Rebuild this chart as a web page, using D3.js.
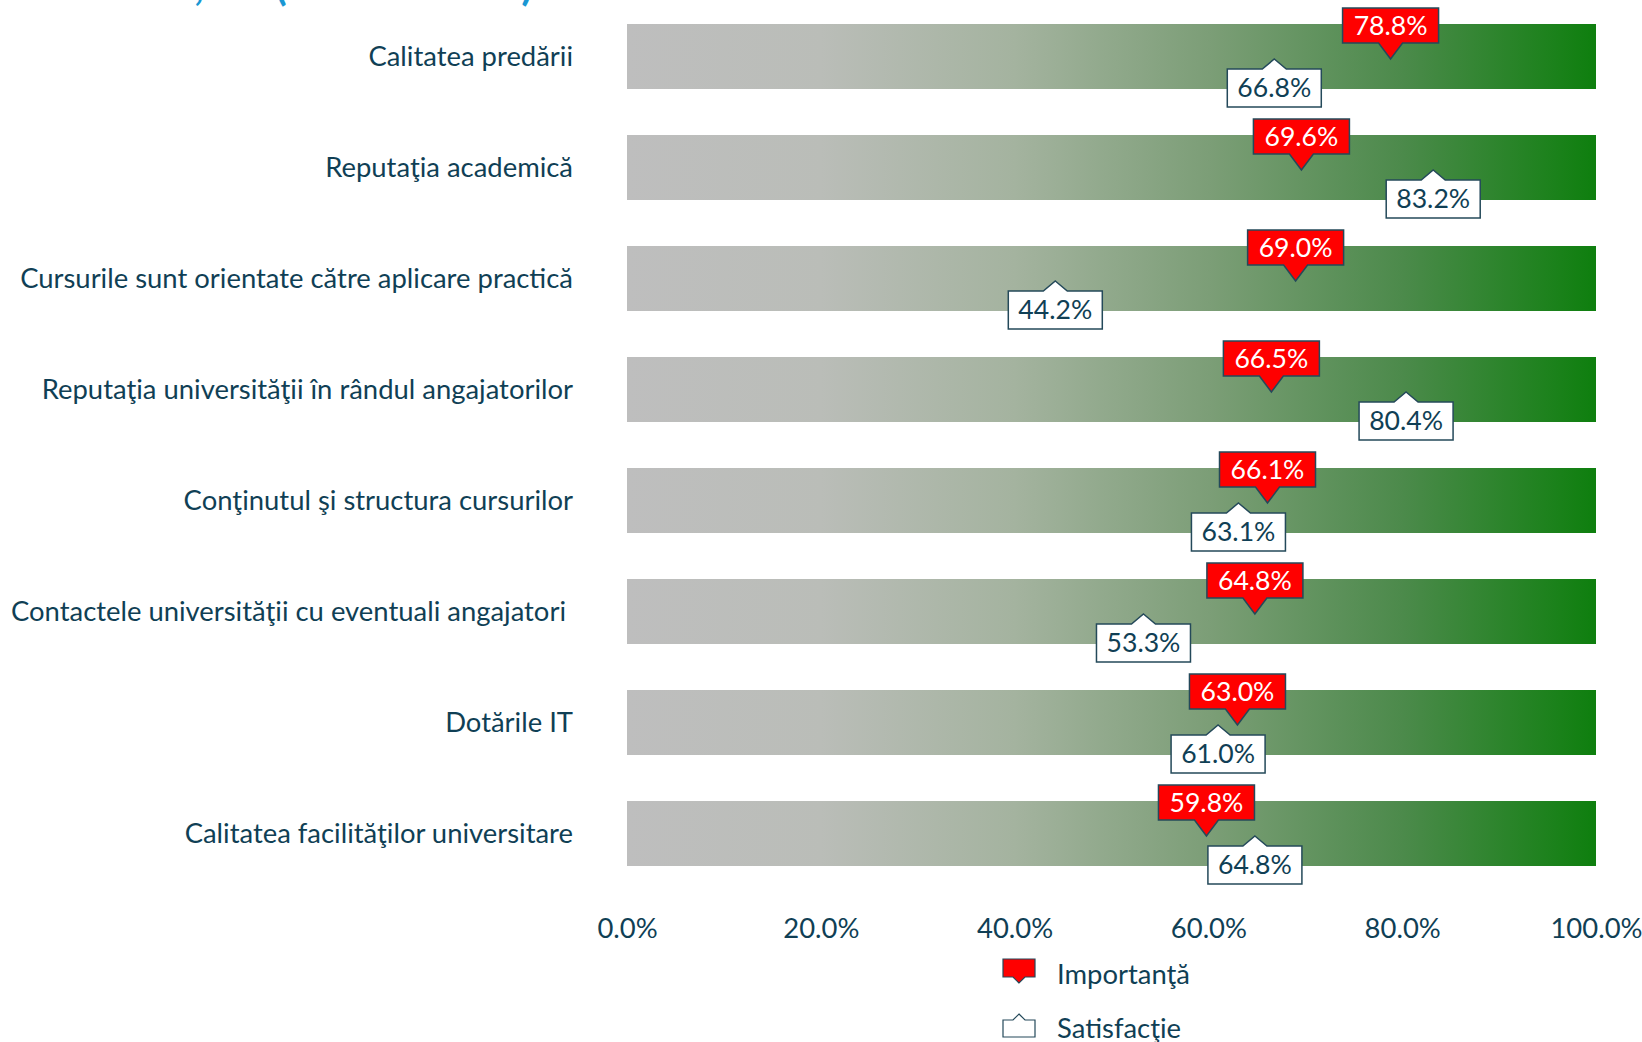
<!DOCTYPE html>
<html>
<head>
<meta charset="utf-8">
<script src="https://cdn.jsdelivr.net/npm/d3@7/dist/d3.min.js"></script>
<style>
  body { margin: 0; background: #fff; }
  svg text { font-family: Lato, "Open Sans", sans-serif; }
</style>
</head>
<body>
<div id="chart"></div>
<script>
// categories, top to bottom
var categories = [
  "Calitatea predării",
  "Reputaţia academică",
  "Cursurile sunt orientate către aplicare practică",
  "Reputaţia universităţii în rândul angajatorilor",
  "Conţinutul şi structura cursurilor",
  "Contactele universităţii cu eventuali angajatori ",
  "Dotările IT",
  "Calitatea facilităţilor universitare"
];
var importanta = [0.788, 0.696, 0.690, 0.665, 0.661, 0.648, 0.630, 0.598];
var satisfactie = [0.668, 0.832, 0.442, 0.804, 0.631, 0.533, 0.610, 0.648];
var ticks = [0, 0.2, 0.4, 0.6, 0.8, 1.0];
var legendLabels = ["Importanţă", "Satisfacţie"];
// bits of the cut-off title that peek in at the top edge
var titleBits = [",", "(", ")"];
var titleBitX = [199, 281, 527];

var width = 1642, height = 1042;
var TEXT = "#103f55", EDGE = "#24495a";

var svg = d3.select("#chart").append("svg")
    .attr("width", width)
    .attr("height", height);

// fit label font to the longest label width seen in the picture
var probe = svg.append("text").style("font-size", "100px").text(categories[2]);
var fs = 100 * 553 / probe.node().getComputedTextLength();
probe.remove();

var x = d3.scaleLinear().domain([0, 1]).range([627, 1596]);
var y = d3.scaleBand().domain(categories).range([24, 866])
    .paddingInner(46 / 111).paddingOuter(0);

var defs = svg.append("defs");
var grad = defs.append("linearGradient")
    .attr("id", "barGrad")
    .attr("gradientUnits", "userSpaceOnUse")
    .attr("x1", x(0)).attr("x2", x(1)).attr("y1", 0).attr("y2", 0);
[[0, "#bebebe"], [0.2, "#babdb8"], [0.4, "#a4b39f"], [0.6, "#7c9e77"],
 [0.8, "#4c8a4b"], [1, "#0e7f0e"]].forEach(function(s) {
  grad.append("stop").attr("offset", s[0]).attr("stop-color", s[1]);
});

// title remnants
svg.selectAll(".tbit")
    .data(titleBits)
  .enter().append("text")
    .attr("class", "tbit")
    .attr("x", function(d, i) { return titleBitX[i]; })
    .attr("y", 0)
    .attr("text-anchor", "middle")
    .style("font-size", "42px")
    .style("font-weight", "bold")
    .style("fill", "#1a97d3")
    .text(function(d) { return d; });

// bars
svg.append("g").selectAll("rect")
    .data(categories)
  .enter().append("rect")
    .attr("x", x(0))
    .attr("y", function(d) { return y(d); })
    .attr("width", x(1) - x(0))
    .attr("height", y.bandwidth())
    .style("fill", "url(#barGrad)");

// category labels
svg.append("g").selectAll("text")
    .data(categories)
  .enter().append("text")
    .attr("x", 573)
    .attr("y", function(d) { return y(d) + y.bandwidth() / 2; })
    .attr("dy", "0.35em")
    .attr("text-anchor", "end")
    .attr("xml:space", "preserve")
    .style("white-space", "pre")
    .style("font-size", fs + "px")
    .style("fill", TEXT)
    .text(function(d) { return d; });

// axis (labels only)
var axis = svg.append("g")
    .attr("transform", "translate(0,928)")
    .call(d3.axisBottom(x).tickValues(ticks).tickFormat(d3.format(".1%")).tickSize(0));
axis.select(".domain").remove();
axis.selectAll("text")
    .attr("y", 0).attr("dy", "0.35em")
    .style("font-family", "Lato, 'Open Sans', sans-serif")
    .style("font-size", fs + "px")
    .style("fill", TEXT);

// callout shapes, tip at (0,0)
function downCallout(w, h, th, tw) {   // box above, tip pointing down
  var hw = w / 2;
  return "M0,0 L" + (-tw) + "," + (-th) + " L" + (-hw) + "," + (-th) + " L" + (-hw) + "," + (-th - h) +
         " L" + hw + "," + (-th - h) + " L" + hw + "," + (-th) + " L" + tw + "," + (-th) + " Z";
}
function upCallout(w, h, th, tw) {     // box below, tip pointing up
  var hw = w / 2;
  return "M0,0 L" + tw + "," + th + " L" + hw + "," + th + " L" + hw + "," + (th + h) +
         " L" + (-hw) + "," + (th + h) + " L" + (-hw) + "," + th + " L" + (-tw) + "," + th + " Z";
}

// satisfaction markers
var sat = svg.append("g").selectAll("g")
    .data(categories)
  .enter().append("g")
    .attr("transform", function(d, i) {
      return "translate(" + x(satisfactie[i]) + "," + (y(d) + 35) + ")";
    });
sat.append("path")
    .attr("d", upCallout(94, 38, 10, 12))
    .style("fill", "#fff")
    .style("stroke", EDGE)
    .style("stroke-width", 1.5);
sat.append("text")
    .attr("y", 29).attr("dy", "0.35em")
    .attr("text-anchor", "middle")
    .style("font-size", (fs * 0.97) + "px")
    .style("fill", TEXT)
    .text(function(d, i) { return d3.format(".1%")(satisfactie[i]); });

// importance markers
var imp = svg.append("g").selectAll("g")
    .data(categories)
  .enter().append("g")
    .attr("transform", function(d, i) {
      return "translate(" + x(importanta[i]) + "," + (y(d) + 35) + ")";
    });
imp.append("path")
    .attr("d", downCallout(96, 35, 16, 12))
    .style("fill", "#ff0000")
    .style("stroke", EDGE)
    .style("stroke-width", 1.5);
imp.append("text")
    .attr("y", -33).attr("dy", "0.35em")
    .attr("text-anchor", "middle")
    .style("font-size", (fs * 0.97) + "px")
    .style("fill", "#fff")
    .text(function(d, i) { return d3.format(".1%")(importanta[i]); });

// legend
var legend = svg.append("g");
legend.append("path")
    .attr("transform", "translate(1019,983)")
    .attr("d", downCallout(32, 18, 6, 6))
    .style("fill", "#ff0000")
    .style("stroke", EDGE)
    .style("stroke-width", 1.2);
legend.append("path")
    .attr("transform", "translate(1019,1014)")
    .attr("d", upCallout(32, 17, 6, 6))
    .style("fill", "#fff")
    .style("stroke", EDGE)
    .style("stroke-width", 1.2);
legend.selectAll("text")
    .data(legendLabels)
  .enter().append("text")
    .attr("x", 1057)
    .attr("y", function(d, i) { return 974 + i * 54; })
    .attr("dy", "0.35em")
    .style("font-size", fs + "px")
    .style("fill", TEXT)
    .text(function(d) { return d; });
</script>
</body>
</html>
